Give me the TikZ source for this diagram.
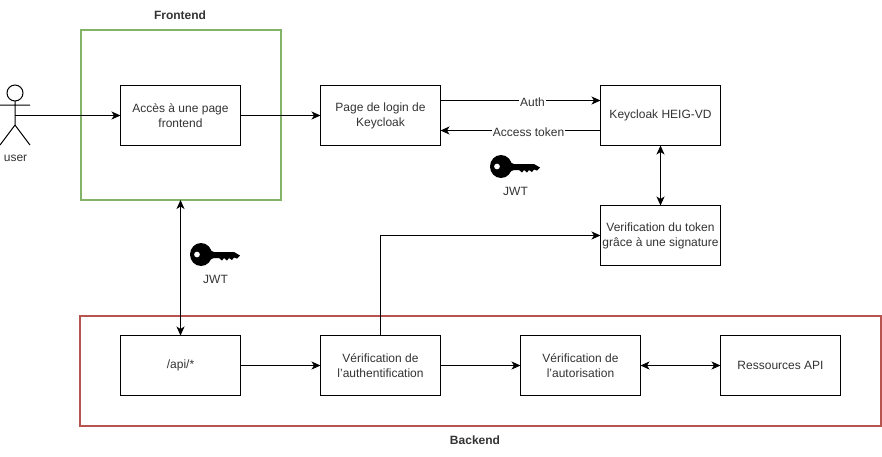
\documentclass[tikz,border=0pt]{standalone}
\usepackage{fontspec}
\setmainfont{Liberation Sans}
\usetikzlibrary{arrows.meta,positioning}
\tikzset{
  px/.style={x=1pt,y=-1pt},
  boxn/.style={draw=black,line width=1pt,fill=white,minimum width=120pt,minimum height=60pt,inner sep=0pt,outer sep=0pt,align=center,font=\fontsize{12}{15}\selectfont,text=black!80},
  group/.style={line width=2pt,minimum height=0pt,inner sep=0pt,outer sep=0pt},
  lbl/.style={inner sep=0pt,font=\fontsize{12}{15}\selectfont,text=black!80},
  grouplbl/.style={inner sep=0pt,font=\bfseries\fontsize{12}{15}\selectfont,text=black!80},
  edgelbl/.style={lbl,fill=white,inner xsep=1pt,inner ysep=1pt},
  conn/.style={line width=1pt,-{Stealth[length=9pt,width=8pt,inset=2.5pt]}},
  biconn/.style={line width=1pt,{Stealth[length=9pt,width=8pt,inset=2.5pt]}-{Stealth[length=9pt,width=8pt,inset=2.5pt]}},
  actorline/.style={line width=1pt},
  pics/jwtkey/.style={code={
    \fill[black,even odd rule] (11,11.5) ellipse (11 and 11.5) (7,11.5) circle (3);
    \fill[black] (18,6.5) -- (24,9) -- (44,9) -- (50,12.5) -- (47,15.5) -- (44,14.5) -- (42,17) -- (39,15) -- (37,17.5) -- (34,15) -- (32,17.5) -- (29,15) -- (24,15) -- (18,17.5) -- cycle;
  }}
}
\begin{document}
\begin{tikzpicture}[px]
\useasboundingbox (0,0) rectangle (882,456);
% groups
\node[group,draw={rgb,255:red,130;green,179;blue,102},minimum width=200pt,minimum height=170pt] (front) at (181,115) {};
\node[group,draw={rgb,255:red,184;green,84;blue,80},minimum width=801pt,minimum height=110pt] (back) at (480.5,371) {};
\node[grouplbl] (frontlbl) at (180,15) {Frontend};
\node[grouplbl] (backlbl) at (475,440) {Backend};
% boxes
\node[boxn] (acces) at (180.5,115.5) {Accès à une page\\frontend};
\node[boxn] (login) at (380.5,115.5) {Page de login de\\Keycloak};
\node[boxn] (kc) at (660.5,115.5) {Keycloak HEIG-VD};
\node[boxn] (verif) at (660.5,235.5) {Verification du token\\grâce à une signature};
\node[boxn] (api) at (180.5,365.5) {/api/*};
\node[boxn] (authn) at (380.5,365.5) {Vérification de\\l'authentification};
\node[boxn] (authz) at (580.5,365.5) {Vérification de\\l'autorisation};
\node[boxn] (res) at (780.5,365.5) {Ressources API};
% actor
\draw[actorline] (15,93) circle (8);
\draw[actorline] (15,101) -- (15,125) (0,105) -- (30,105) (0,145) -- (15,125) -- (30,145);
\coordinate (actor) at (15,115.5);
\node[lbl] (userlbl) at (15.5,158.5) {user};
% connectors
\draw[conn] (actor) -- (acces.west);
\draw[conn] (acces.east) -- (login.west);
\draw[conn] ([yshift=15pt]login.east) -- node[edgelbl,pos=0.575,yshift=-1.5pt] (authl) {Auth} ([yshift=15pt]kc.west);
\draw[conn] ([yshift=-15pt]kc.west) -- node[edgelbl,pos=0.45,yshift=-1.5pt] (tokl) {Access token} ([yshift=-15pt]login.east);
\draw[biconn] (kc.south) -- (verif.north);
\draw[biconn] (front.south -| api.north) -- (api.north);
\draw[conn] (api.east) -- (authn.west);
\draw[conn] (authn.east) -- (authz.west);
\draw[biconn] (authz.east) -- (res.west);
\draw[conn] (authn.north) |- (verif.west);
% keys
\pic at (490,155) {jwtkey};
\pic at (190,243) {jwtkey};
\node[lbl] (jwt1) at (515.5,191.5) {JWT};
\node[lbl] (jwt2) at (215.5,279) {JWT};
\end{tikzpicture}
\end{document}
